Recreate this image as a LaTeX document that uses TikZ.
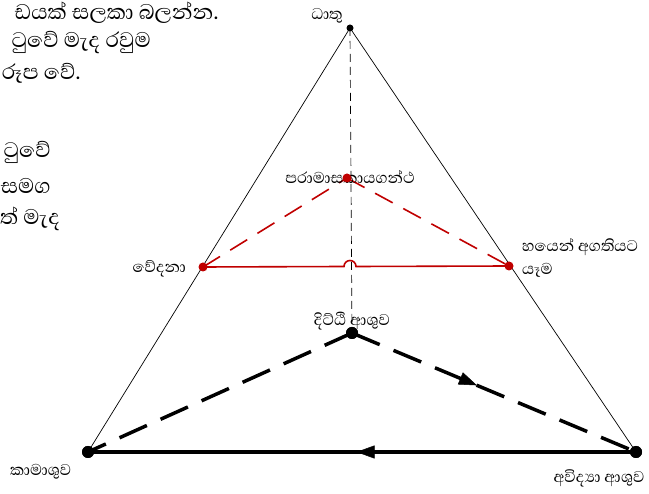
\documentclass[tikz,border=0pt]{standalone}
\usepackage{fontspec}
\newfontfamily\sinhfont[Script=Sinhala]{Abhaya Libre}
\usetikzlibrary{arrows.meta,decorations.markings}
\definecolor{dred}{HTML}{C00000}
\tikzset{
  lbl/.style={font=\sinhfont\fontsize{20}{22}\selectfont, inner sep=0pt},
  big/.style={font=\sinhfont\fontsize{27}{29}\selectfont, inner sep=0pt},
  bdot/.style={circle, fill=black, inner sep=0pt, minimum size=#1},
  rdot/.style={circle, fill=dred, inner sep=0pt, minimum size=9pt},
  thinline/.style={line width=0.7pt},
  thickdash/.style={line width=3.5pt, dash pattern=on 30pt off 15pt},
  reddash/.style={line width=1.6pt, dred, dash pattern=on 20pt off 12pt},
  midarrow/.style={postaction={decorate, decoration={markings,
     mark=at position #1 with {\arrow[line width=0.5pt]{Triangle[length=18pt,width=13pt]}}}}}
}
\begin{document}
\begin{tikzpicture}[x=1pt,y=-1pt]
\useasboundingbox (0,0) rectangle (649,494);
\clip (0,0) rectangle (649,494);
% outer triangle points
\node[bdot=7pt] (apex) at (350,28) {};
\node[bdot=12pt] (bl) at (88,452) {};
\node[bdot=12pt] (br) at (636,452) {};
\node[bdot=12pt] (it) at (352,333) {};
% outer triangle
\draw[thinline] (apex.center) -- (bl.center);
\draw[thinline] (apex.center) -- (br.center);
\draw[thinline, dash pattern=on 8pt off 5pt] (apex.center) -- (it.center);
% red
\coordinate (rl) at (203,267);
\coordinate (rr) at (509,266);
\coordinate (rt) at (347,178);
\coordinate (jl) at (344,266.5);
\coordinate (jr) at (356,266.5);
\draw[reddash] (rl) -- (rt);
\draw[reddash] (rt) -- (rr);
\draw[dred, line width=1.6pt] (rl) -- (jl) arc[start angle=180, end angle=0, radius=6pt] -- (rr);
% labels
\node[lbl] (dhatu) at (327,16) {ධාතු};
\node[lbl] (param) at (350,177) {පරාමාසකායගන්ථ};
\node[rdot] (rtd) at (rt) {};
\node[rdot] (rld) at (rl) {};
\node[rdot] (rrd) at (rr) {};
\node[lbl, anchor=east] (ved) at (186,269) {වේදනා};
\node[lbl, anchor=west, align=left] (hay) at (522,258) {හයෙන් අගතියට\\[1pt]යෑම};
\node[lbl] (ditt) at (352,321) {දිට්ඨි ආශුව};
\node[lbl, anchor=west] (kama) at (10,472) {කාමාශුව};
\node[lbl] (avid) at (599,478) {අවිද්‍යා ආශුව};
% black inner triangle
\draw[thickdash] (it.center) -- (bl.center);
\draw[thickdash, midarrow=0.44] (it.center) -- (br.center);
\draw[line width=3.5pt, midarrow=0.51] (br.center) -- (bl.center);
\node[bdot=12pt] at (it) {};
\node[bdot=12pt] at (bl) {};
\node[bdot=12pt] at (br) {};
% cropped text at top left
\node[big, anchor=east] (t1) at (219,13) {ඩයක් සලකා බලන්න.};
\node[big, anchor=east] (t2) at (151,43) {ටුවේ මැද රවුම};
\node[big, anchor=east] (t3) at (81,73) {රූප වේ.};
\node[big, anchor=east] (t4) at (51,152) {ටුවේ};
\node[big, anchor=east] (t5) at (51,186) {සමග};
\node[big, anchor=west] (t6) at (0,219) {ත් මැද};
\end{tikzpicture}
\end{document}
